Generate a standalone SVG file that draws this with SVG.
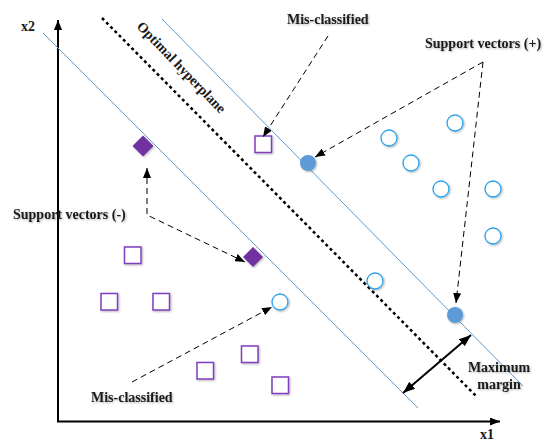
<svg xmlns="http://www.w3.org/2000/svg" width="545" height="441" viewBox="0 0 545 441">
<defs>
<marker id="ah" viewBox="0 0 10 8" refX="10" refY="4" markerWidth="10" markerHeight="8" markerUnits="userSpaceOnUse" orient="auto-start-reverse"><path d="M0,0 L10,4 L0,8 Z" fill="#000"/></marker>
<marker id="ahb" viewBox="0 0 12 9" refX="12" refY="4.5" markerWidth="12" markerHeight="9" markerUnits="userSpaceOnUse" orient="auto-start-reverse"><path d="M0,0 L12,4.5 L0,9 Z" fill="#000"/></marker>
<filter id="sh" x="-20%" y="-20%" width="140%" height="140%"><feGaussianBlur in="SourceAlpha" stdDeviation="1"/><feOffset dx="0.5" dy="1"/><feComponentTransfer><feFuncA type="linear" slope="0.3"/></feComponentTransfer><feMerge><feMergeNode/><feMergeNode in="SourceGraphic"/></feMerge></filter>
</defs>
<style>
text{font-family:"Liberation Serif","Times New Roman",serif;font-weight:bold;font-size:14px;fill:#1a1a1a}
.sq{fill:#fff;stroke:#7F3FBF;stroke-width:1.5}
.dm{fill:#7030A0}
.ci{fill:#fff;stroke:#2BA3EC;stroke-width:1.3}
.cf{fill:#5B9BD5}
.bl{stroke:#5B9BD5;stroke-width:1;fill:none}
.dash{stroke:#000;stroke-width:1;stroke-dasharray:6,4;fill:none}
</style>
<rect width="545" height="441" fill="#fff"/>
<g id="axes">
<line x1="58" y1="421.5" x2="58" y2="20" stroke="#000" stroke-width="2" marker-end="url(#ah)"/>
<line x1="57" y1="421.5" x2="500" y2="421.5" stroke="#000" stroke-width="2" marker-end="url(#ah)"/>
<text x="21" y="31">x2</text>
<text x="480" y="439">x1</text>
</g>
<g id="lines">
<line class="bl" x1="43" y1="33" x2="418" y2="408"/>
<line class="bl" x1="162" y1="19" x2="523" y2="386"/>
<line x1="102" y1="18" x2="477" y2="397" stroke="#000" stroke-width="2.5" stroke-dasharray="3,3"/>
<text transform="translate(136,27) rotate(46)">Optimal hyperplane</text>
</g>
<g id="negatives" filter="url(#sh)">
<rect class="sq" x="255" y="136" width="16.5" height="16.5"/>
<rect class="sq" x="124.5" y="247" width="16.5" height="16.5"/>
<rect class="sq" x="101" y="293.5" width="16.5" height="16.5"/>
<rect class="sq" x="153" y="293.5" width="16.5" height="16.5"/>
<rect class="sq" x="241.5" y="346" width="16.5" height="16.5"/>
<rect class="sq" x="197" y="362.5" width="16.5" height="16.5"/>
<rect class="sq" x="272" y="377" width="16.5" height="16.5"/>
<path class="dm" d="M143,135.5 L153.5,146 L143,156.5 L132.5,146 Z"/>
<path class="dm" d="M253,247 L263,257 L253,267 L243,257 Z"/>
</g>
<g id="positives" filter="url(#sh)">
<circle class="ci" cx="455" cy="123" r="8"/>
<circle class="ci" cx="389" cy="138" r="8"/>
<circle class="ci" cx="411" cy="163" r="8"/>
<circle class="ci" cx="441" cy="189" r="8"/>
<circle class="ci" cx="493" cy="189" r="8"/>
<circle class="ci" cx="493" cy="236" r="8"/>
<circle class="ci" cx="375" cy="281" r="8"/>
<circle class="ci" cx="280" cy="302" r="8"/>
<circle class="cf" cx="308" cy="163" r="8"/>
<circle class="cf" cx="455" cy="315" r="8"/>
</g>
<g id="connectors">
<line class="dash" x1="328" y1="36" x2="263" y2="137" marker-end="url(#ah)"/>
<line class="dash" x1="483" y1="62" x2="315" y2="157" marker-end="url(#ah)"/>
<line class="dash" x1="483" y1="62" x2="456" y2="303" marker-end="url(#ah)"/>
<polyline class="dash" points="147,168 147,215 245,262" marker-start="url(#ah)" marker-end="url(#ah)"/>
<line class="dash" x1="132" y1="382" x2="272" y2="307" marker-end="url(#ah)"/>
<line x1="403" y1="393" x2="471" y2="335" stroke="#000" stroke-width="2" marker-start="url(#ahb)" marker-end="url(#ahb)"/>
</g>
<g id="labels" filter="url(#sh)">
<text x="287" y="24">Mis-classified</text>
<text x="425" y="48">Support vectors (+)</text>
<text x="13" y="219">Support vectors (-)</text>
<text x="91" y="402">Mis-classified</text>
<text x="499" y="372" text-anchor="middle">Maximum</text>
<text x="499" y="389" text-anchor="middle">margin</text>
</g>
</svg>
